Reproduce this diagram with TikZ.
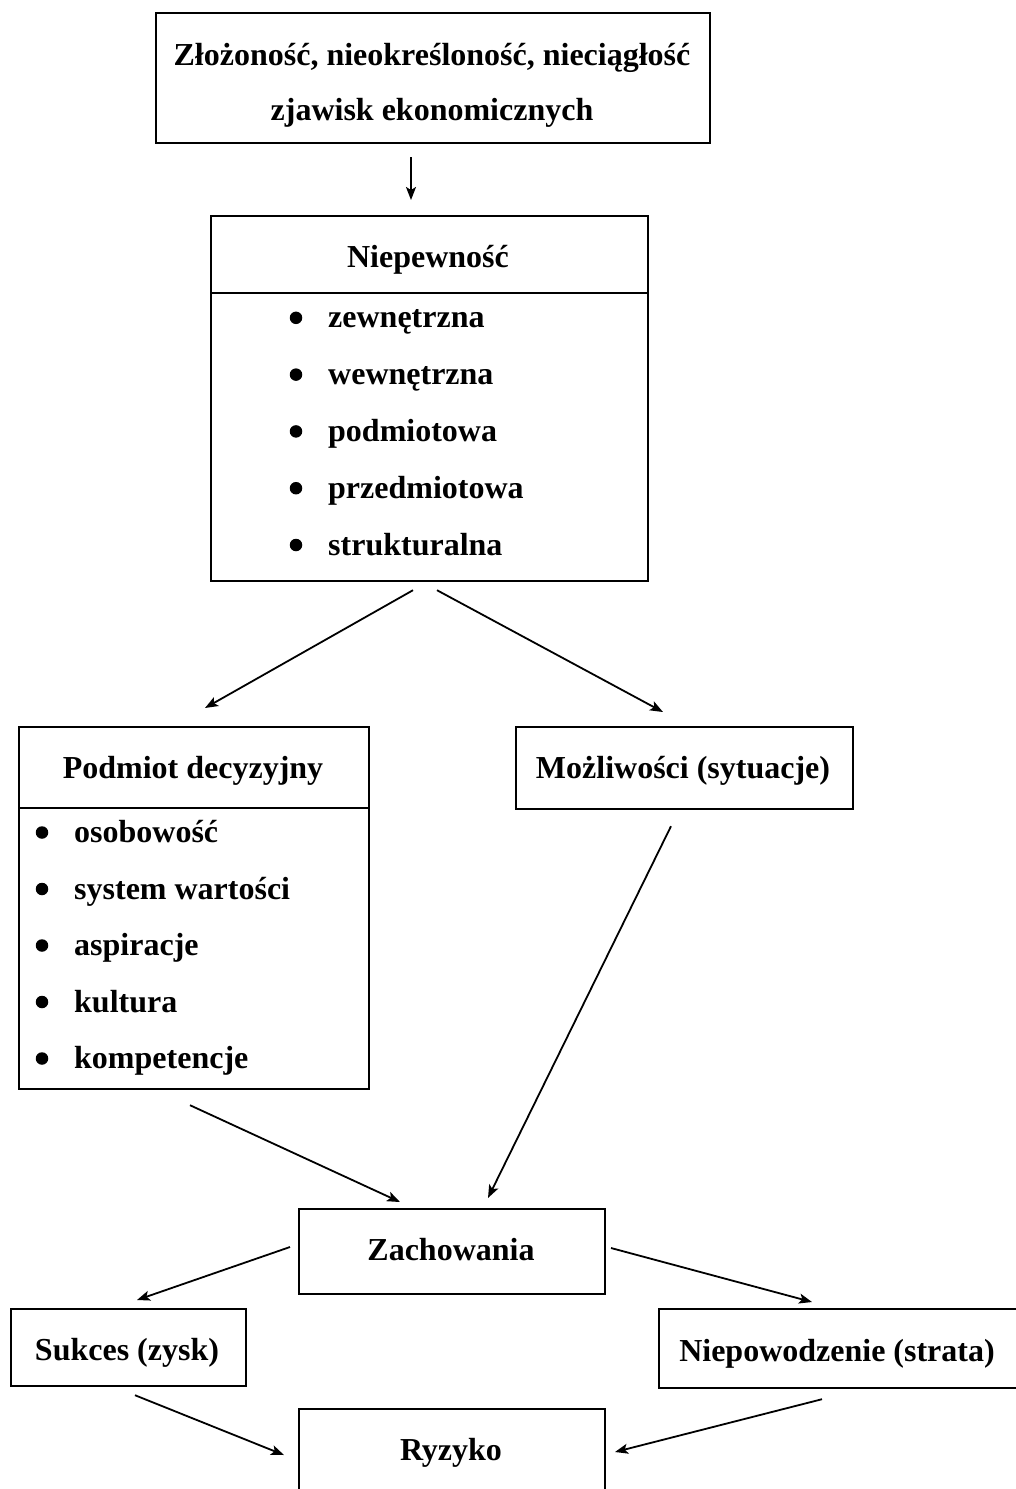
\documentclass[tikz,border=0pt]{standalone}
\usepackage{fontspec}
\setmainfont{Liberation Serif}
\usetikzlibrary{calc,arrows.meta}
\begin{document}
\begin{tikzpicture}[x=1pt,y=-1pt,
  box/.style={draw,line width=2.2pt,rectangle,inner sep=0pt,anchor=north west},
  lbl/.style={inner sep=0pt,font=\fontsize{32}{40}\selectfont\bfseries},
  item/.style={lbl,anchor=base west},
  dot/.style={circle,fill,inner sep=0pt,minimum size=12.5pt},
  arr/.style={line width=1.8pt,-{Stealth[length=13pt,width=10pt,inset=3pt]}}]
\useasboundingbox (0,0) rectangle (1016,1489);

% boxes
\node[box,minimum width=554pt,minimum height=130pt] (top) at (155,12) {};
\node[box,minimum width=437pt,minimum height=365pt] (unc) at (210,215) {};
\node[box,minimum width=350pt,minimum height=362pt] (pod) at (18,726) {};
\node[box,minimum width=337pt,minimum height=82pt] (moz) at (515,726) {};
\node[box,minimum width=306pt,minimum height=85pt] (zach) at (298,1208) {};
\node[box,minimum width=235pt,minimum height=77pt] (suk) at (10,1308) {};
\node[box,minimum width=380pt,minimum height=79pt] (nie) at (658,1308) {};
\node[box,minimum width=306pt,minimum height=110pt] (ryz) at (298,1408) {};

% dividers under the headings
\draw[line width=2.2pt] ($(unc.north west)+(0,78)$) -- ($(unc.north east)+(0,78)$);
\draw[line width=2.2pt] ($(pod.north west)+(0,82)$) -- ($(pod.north east)+(0,82)$);

% texts
\node[lbl,anchor=base] (t1) at (432,65) {Złożoność, nieokreśloność, nieciągłość};
\node[lbl,anchor=base] (t2) at (432,120) {zjawisk ekonomicznych};
\node[lbl,anchor=base] (t3) at (428,267) {Niepewność};
\node[lbl,anchor=base] (t4) at (193,778) {Podmiot decyzyjny};
\node[lbl,anchor=base] (t5) at (683,778) {Możliwości (sytuacje)};
\node[lbl,anchor=base] (t6) at (451,1260) {Zachowania};
\node[lbl,anchor=base] (t7) at (127,1360) {Sukces (zysk)};
\node[lbl,anchor=base] (t8) at (837,1361) {Niepowodzenie (strata)};
\node[lbl,anchor=base] (t9) at (451,1460) {Ryzyko};

% list of kinds of uncertainty
\foreach \t [count=\i] in {zewnętrzna,wewnętrzna,podmiotowa,przedmiotowa,strukturalna}{
  \node[dot] (ud\i) at (296,{261+56.8*\i}) {};
  \node[item] (ui\i) at (328,{271+56.8*\i}) {\t};
}
% list of features of the decision maker
\foreach \t [count=\i] in {osobowość,system wartości,aspiracje,kultura,kompetencje}{
  \node[dot] (pd\i) at (42,{776+56.5*\i}) {};
  \node[item] (pi\i) at (74,{786+56.5*\i}) {\t};
}

% connectors
\draw[arr] ($(top.south west)+(256,13)$) -- ($(unc.north west)+(201,-15)$);
\draw[arr] ($(unc.south west)+(203,8)$) -- ($(pod.north west)+(187,-18)$);
\draw[arr] ($(unc.south west)+(227,8)$) -- ($(moz.north west)+(148,-14)$);
\draw[arr] ($(pod.south west)+(172,15)$) -- ($(zach.north west)+(102,-6)$);
\draw[arr] ($(moz.south west)+(156,16)$) -- ($(zach.north west)+(190,-10)$);
\draw[arr] ($(zach.north west)+(-8,39)$) -- ($(suk.north west)+(127,-8)$);
\draw[arr] ($(zach.north west)+(313,40)$) -- ($(nie.north west)+(154,-6)$);
\draw[arr] ($(suk.south west)+(125,8)$) -- ($(ryz.north west)+(-14,47)$);
\draw[arr] ($(nie.south west)+(164,10)$) -- ($(ryz.north west)+(317,44)$);
\end{tikzpicture}
\end{document}
